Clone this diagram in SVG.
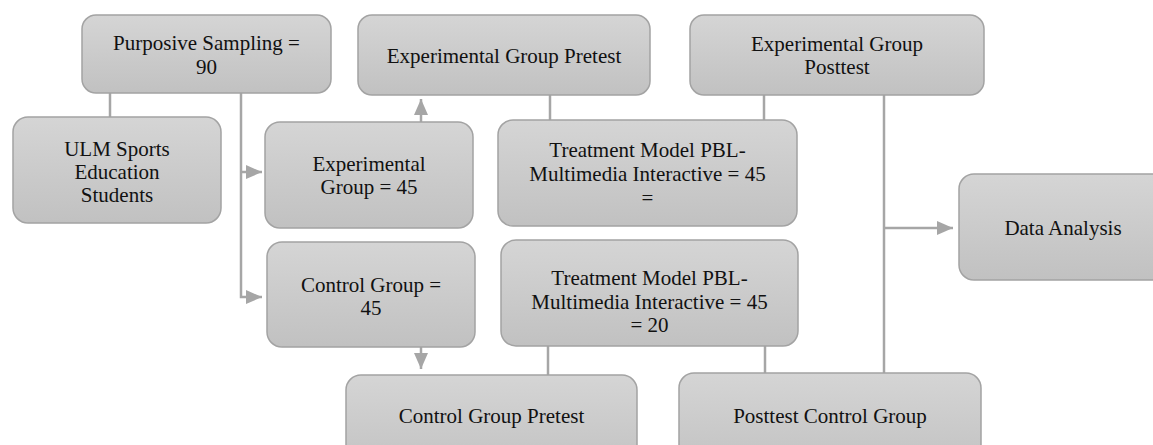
<svg xmlns="http://www.w3.org/2000/svg" width="1153" height="445" viewBox="0 0 1153 445">
<style>
.box{fill:url(#g);stroke:#a3a3a3;stroke-width:1.5}
.t{font-family:'Liberation Serif',Tinos,'Times New Roman',Times,'DejaVu Serif',serif;font-size:21px;fill:#111;text-anchor:middle}
.c{stroke:#a6a6a6;stroke-width:2.5;fill:none}
.a{marker-end:url(#ah)}
</style>
<defs>
<linearGradient id="g" x1="0" y1="0" x2="0" y2="1">
<stop offset="0" stop-color="#d5d5d5"/>
<stop offset="1" stop-color="#c1c1c1"/>
</linearGradient>
<marker id="ah" markerUnits="userSpaceOnUse" markerWidth="16" markerHeight="14" refX="16" refY="7" orient="auto">
<path d="M0,0 L16,7 L0,14 z" fill="#a6a6a6"/>
</marker>
</defs>
<rect width="1153" height="445" fill="#fff"/>
<g id="connectors">
<line class="c" x1="110" y1="93" x2="110" y2="117"/>
<path class="c a" d="M241,93 V297 H262"/>
<path class="c a" d="M241,172 H262"/>
<path class="c a" d="M421,122 V99"/>
<line class="c" x1="550" y1="95" x2="550" y2="120"/>
<line class="c" x1="764" y1="95" x2="764" y2="120"/>
<path class="c a" d="M421,347 V369"/>
<line class="c" x1="548" y1="346" x2="548" y2="375"/>
<line class="c" x1="765" y1="346" x2="765" y2="373"/>
<line class="c" x1="884" y1="95" x2="884" y2="373"/>
<path class="c a" d="M884,228 H953"/>
</g>
<g id="purposive">
<rect class="box" x="82" y="15" width="249" height="78" rx="14"/>
<text class="t" x="206.5" y="50" font-family="Liberation Serif, serif">Purposive Sampling =</text>
<text class="t" x="206.5" y="74" font-family="Liberation Serif, serif">90</text>
</g>
<g id="ulm">
<rect class="box" x="13" y="117" width="208" height="106" rx="15"/>
<text class="t" x="117" y="156">ULM Sports</text>
<text class="t" x="117" y="179">Education</text>
<text class="t" x="117" y="202">Students</text>
</g>
<g id="exp-group">
<rect class="box" x="265" y="122" width="208" height="106" rx="15"/>
<text class="t" x="369" y="171">Experimental</text>
<text class="t" x="369" y="194">Group = 45</text>
</g>
<g id="ctrl-group">
<rect class="box" x="267" y="242" width="208" height="105" rx="15"/>
<text class="t" x="371" y="292">Control Group =</text>
<text class="t" x="371" y="315">45</text>
</g>
<g id="exp-pretest">
<rect class="box" x="358" y="15" width="292" height="80" rx="14"/>
<text class="t" x="504" y="63">Experimental Group Pretest</text>
</g>
<g id="treatment1">
<rect class="box" x="498" y="120" width="299" height="106" rx="15"/>
<text class="t" x="647.5" y="157">Treatment Model PBL-</text>
<text class="t" x="647.5" y="181">Multimedia Interactive = 45</text>
<text class="t" x="647.5" y="205">=</text>
</g>
<g id="treatment2">
<rect class="box" x="501" y="240" width="297" height="106" rx="15"/>
<text class="t" x="649.5" y="285">Treatment Model PBL-</text>
<text class="t" x="649.5" y="309">Multimedia Interactive = 45</text>
<text class="t" x="649.5" y="332">= 20</text>
</g>
<g id="exp-posttest">
<rect class="box" x="690" y="15" width="294" height="80" rx="14"/>
<text class="t" x="837" y="51">Experimental Group</text>
<text class="t" x="837" y="74">Posttest</text>
</g>
<g id="ctrl-pretest">
<rect class="box" x="346" y="375" width="291" height="100" rx="15"/>
<text class="t" x="491.5" y="423">Control Group Pretest</text>
</g>
<g id="posttest-ctrl">
<rect class="box" x="679" y="373" width="302" height="100" rx="15"/>
<text class="t" x="830" y="423">Posttest Control Group</text>
</g>
<g id="data-analysis">
<rect class="box" x="959" y="174" width="208" height="106" rx="15"/>
<text class="t" x="1063" y="235">Data Analysis</text>
</g>
</svg>
